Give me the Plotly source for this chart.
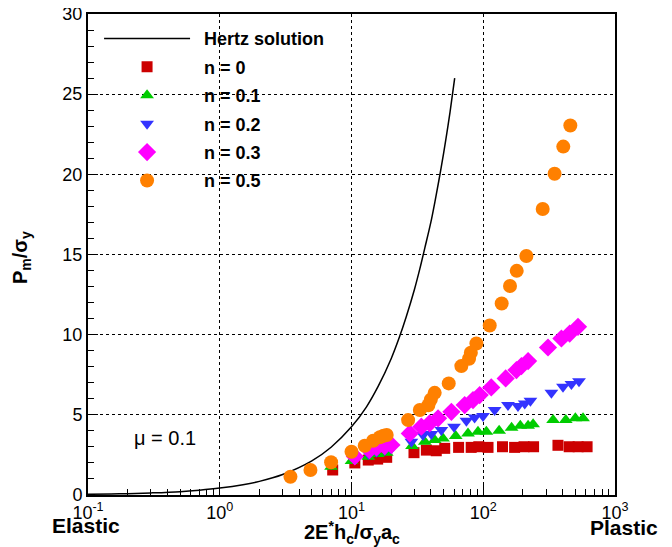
import plotly.graph_objects as go

# Hertz solution
hertz_x = [0.1, 0.15, 0.2, 0.3, 0.5, 0.7, 1.0, 1.5, 2.0, 3.0, 5.0, 7.0, 10.0, 13.0, 16.0,
           20.0, 23.0, 26.0, 30.0, 33.0, 36.0, 40.0, 43.0, 46.0, 50.0, 53.0, 56.0, 60.7]
hertz_y = [0.043, 0.064, 0.085, 0.13, 0.21, 0.30, 0.43, 0.64, 0.85, 1.28, 2.13, 2.98, 4.25,
           5.5, 6.8, 8.5, 9.8, 11.1, 12.8, 14.1, 15.4, 17.0, 18.3, 19.6, 21.3, 22.6, 23.9, 26.0]

# n = 0
n0_x = [7.2, 10.6, 13.4, 15.8, 18.5, 29.8, 37, 44, 51, 65, 81, 92.5, 108.7, 140, 173, 204,
        241, 369, 449, 525, 614]
n0_y = [1.56, 2.0, 2.18, 2.24, 2.35, 2.64, 2.8, 2.76, 2.91, 2.97, 2.97, 3.01, 2.97, 3.01, 2.97,
        3.01, 3.01, 3.1, 3.01, 3.01, 3.01]

# n = 0.1
n1_x = [7.0, 10.0, 13.4, 15.8, 18.5, 28.8, 36, 42.8, 49.5, 61.8, 76.6, 91.2, 105.6, 132, 164,
        191, 219, 239, 339, 423, 500, 572]
n1_y = [1.76, 2.12, 2.39, 2.55, 2.64, 3.05, 3.32, 3.43, 3.53, 3.68, 3.84, 3.94, 3.94, 4.0, 4.19,
        4.32, 4.32, 4.42, 4.67, 4.67, 4.78, 4.78]

# n = 0.2
n2_x = [10.6, 13.5, 15.5, 17.9, 20, 28.5, 34.9, 40.4, 48.1, 60, 74.5, 86, 99.6, 122, 154,
        183.5, 206.5, 228, 329, 403, 467, 533]
n2_y = [2.25, 2.55, 2.7, 2.8, 2.9, 3.32, 3.74, 3.8, 4.05, 4.26, 4.63, 4.84, 4.92, 5.3, 5.61,
        5.55, 5.71, 5.88, 6.37, 6.75, 6.92, 7.1]

# n = 0.3
n3_x = [10.6, 13.7, 15.5, 17.9, 20.1, 27.7, 33.9, 39.2, 45.4, 57.3, 72.3, 83.6, 94, 115, 148,
        178.6, 195, 219, 310, 392, 453, 524]
n3_y = [2.4, 2.8, 2.97, 3.05, 3.12, 3.84, 4.26, 4.47, 4.78, 5.19, 5.61, 5.92, 6.23, 6.71, 7.27,
        7.79, 8.04, 8.35, 9.2, 9.76, 10.07, 10.49]

# n = 0.5
n5_x = [3.44, 4.88, 7.0, 10.0, 12.6, 14.6, 16.4, 17.5, 18.5, 26.9, 33.0, 38.3, 40.0, 42.8, 54.7,
        68.2, 78, 80.5, 88.7, 112, 138, 159.6, 179.5, 212.5, 282.6, 348, 405, 458]
n5_y = [1.14, 1.56, 2.04, 2.70, 3.07, 3.38, 3.6, 3.7, 3.74, 4.67, 5.30, 5.6, 5.95, 6.37, 6.96,
        8.04, 8.5, 8.87, 9.45, 10.57, 11.94, 13.04, 13.98, 14.91, 17.84, 20.04, 21.73, 23.05]

x_tickvals = [0.1, 1, 10, 100, 1000]
x_ticktext = ["10<sup>-1</sup>", "10<sup>0</sup>", "10<sup>1</sup>", "10<sup>2</sup>", "10<sup>3</sup>"]
y_tickvals = [0, 5, 10, 15, 20, 25, 30]

FONT = "Liberation Sans, Arial, Helvetica, sans-serif"
SP = "\u2002"

fig = go.Figure()
fig.add_trace(go.Scatter(x=hertz_x, y=hertz_y, mode="lines", name=SP + "<b>Hertz solution</b>",
                         line=dict(color="black", width=1.5, shape="spline"),
                         legendgroup="a"))
series = [
    (n0_x, n0_y, "<b>n = 0</b>", "square", "#CC0000", 11),
    (n1_x, n1_y, "<b>n = 0.1</b>", "triangle-up", "#00CC00", 12),
    (n2_x, n2_y, "<b>n = 0.2</b>", "triangle-down", "#3333FF", 12),
    (n3_x, n3_y, "<b>n = 0.3</b>", "diamond", "#FF00FF", 14),
    (n5_x, n5_y, "<b>n = 0.5</b>", "circle", "#FF8000", 14),
]
for i, (xs, ys, name, sym, col, sz) in enumerate(series):
    fig.add_trace(go.Scatter(x=xs, y=ys, mode="markers", name=SP + name, legendgroup=f"g{i}",
                             marker=dict(symbol=sym, color=col, size=sz, line=dict(width=0))))

grid = dict(showgrid=True, gridcolor="black", gridwidth=1, griddash="3px,3px")
fig.update_xaxes(type="log", range=[-1, 3], tickmode="array", tickvals=x_tickvals,
                 ticktext=x_ticktext, ticks="inside", ticklen=10, tickwidth=1, tickcolor="black",
                 showline=True, linecolor="black", linewidth=2, mirror=True, automargin=False,
                 ticklabeloverflow="allow",
                 minor=dict(ticks="inside", ticklen=6, tickcolor="black", dtick="D1", showgrid=False),
                 tickfont=dict(family=FONT, size=18, color="black"),
                 zeroline=False, **grid)
fig.update_yaxes(range=[0, 30], tickmode="array", tickvals=y_tickvals,
                 ticks="inside", ticklen=10, tickwidth=1, tickcolor="black",
                 showline=True, linecolor="black", linewidth=2, mirror=True, automargin=False,
                 ticklabeloverflow="allow",
                 minor=dict(ticks="inside", ticklen=6, tickcolor="black", dtick=1, showgrid=False),
                 tickfont=dict(family=FONT, size=18, color="black"),
                 zeroline=False, **grid)

# axis titles
fig.add_annotation(text="<b>2E<sup>*</sup>h<sub>c</sub>/σ<sub>y</sub>a<sub>c</sub></b>",
                   xref="paper", yref="paper", x=0.5, y=-0.077, xanchor="center", yanchor="middle",
                   showarrow=False, font=dict(family=FONT, size=20, color="black"))
fig.add_annotation(text="<b>P<sub>m</sub>/σ<sub>y</sub></b>", textangle=-90,
                   xref="paper", yref="paper", x=-0.125, y=0.493, xanchor="center", yanchor="middle",
                   showarrow=False, font=dict(family=FONT, size=20, color="black"))

fig.add_annotation(text="μ = 0.1", xref="paper", yref="paper", x=0.146, y=0.1185,
                   xanchor="center", yanchor="middle",
                   showarrow=False, font=dict(family=FONT, size=20, color="black"))
fig.add_annotation(text="<b>Elastic</b>", xref="paper", yref="paper", x=-0.004, y=-0.063,
                   xanchor="center", yanchor="middle", showarrow=False,
                   font=dict(family=FONT, size=21, color="black"))
fig.add_annotation(text="<b>Plastic</b>", xref="paper", yref="paper", x=1.018, y=-0.067,
                   xanchor="center", yanchor="middle", showarrow=False,
                   font=dict(family=FONT, size=21, color="black"))

# page body adds an 8px margin, so the figure is 8px smaller than the window
fig.update_layout(
    width=664, height=539,
    margin=dict(l=80, r=57, t=6, b=52),
    plot_bgcolor="white", paper_bgcolor="white",
    font=dict(family=FONT, color="black"),
    showlegend=True,
    legend=dict(x=0.021, y=0.987, xanchor="left", yanchor="top", bgcolor="rgba(0,0,0,0)",
                font=dict(family=FONT, size=18, color="black"), itemwidth=86,
                tracegroupgap=2, traceorder="grouped"),
)

fig.write_html("out.html")
